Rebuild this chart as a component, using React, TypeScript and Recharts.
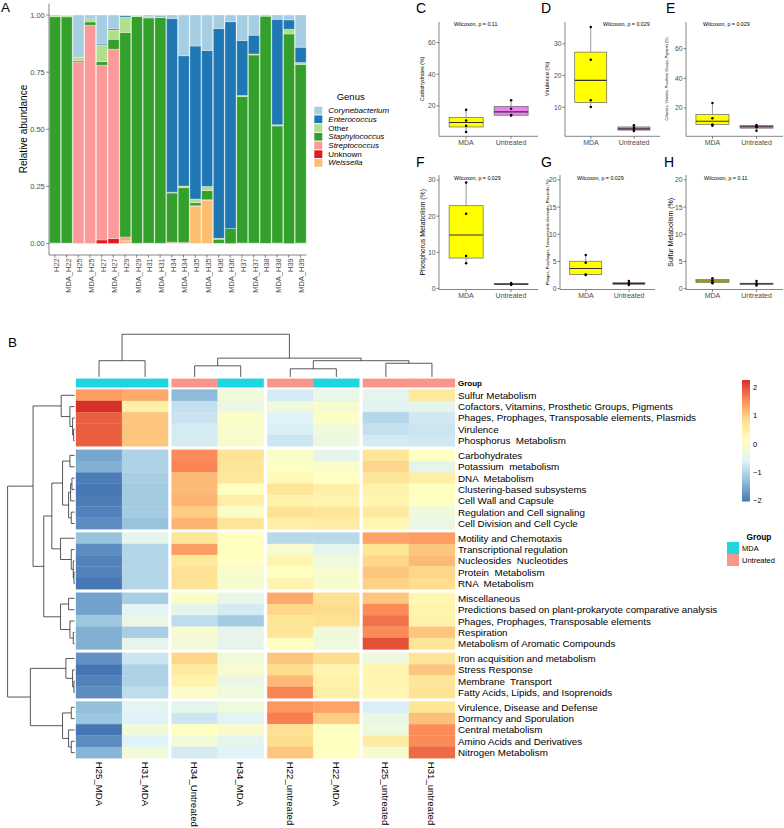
import React from "react";
import { BarChart, Bar, XAxis, YAxis, ComposedChart, ReferenceArea, ReferenceLine } from "recharts";

const FONT = "'Liberation Sans', Arial, Helvetica, sans-serif";
const TICK_GREY = "#4d4d4d";
const AXIS_GREY = "#333333";

/* ---------------- Panel A : genus relative abundance ---------------- */
const samples = ["H22","MDA_H22","H25","MDA_H25","H27","MDA_H27","H29","MDA_H29","H31","MDA_H31","H34","MDA_H34","H35","MDA_H35","H36","MDA_H36","H37","MDA_H37","H38","MDA_H38","H39","MDA_H39"];
const weissella =       [0,0,0,0,0,0,0.012,0,0,0,0,0,0.162,0.19,0,0,0,0,0,0,0,0];
const unknownGenus =    [0,0,0,0,0.016,0.022,0,0,0,0,0,0,0,0,0,0,0,0,0,0,0,0];
const streptococcus =   [0.003,0.002,0.795,0.955,0.764,0.828,0.017,0.001,0.002,0.001,0.006,0.005,0.004,0.002,0.001,0,0.003,0.002,0.001,0.003,0,0.003];
const staphylococcus =  [0.99,0.99,0.005,0.015,0.016,0.044,0.895,0.993,0.985,0.988,0.215,0.24,0.013,0.04,0.018,0.066,0.641,0.823,0.994,0.512,0.917,0.781];
const otherGenus =      [0.007,0.006,0.015,0.01,0.073,0.04,0.066,0.003,0.005,0.003,0.004,0.007,0.016,0.018,0.004,0,0.004,0.005,0.005,0.005,0.021,0.008];
const enterococcus =    [0,0.001,0,0.003,0.004,0.006,0.007,0.001,0,0.004,0.76,0.57,0.669,0.595,0.918,0.905,0.241,0.082,0,0.461,0.041,0.067];
const corynebacterium = [0,0.001,0.185,0.017,0.127,0.06,0.003,0.002,0.008,0.004,0.015,0.178,0.136,0.155,0.059,0.029,0.111,0.088,0,0.019,0.021,0.141];
const genusLegend = ["Corynebacterium","Enterococcus","Other","Staphylococcus","Streptococcus","Unknown","Weissella"];
const genusItalic = [true,true,false,true,true,false,true];
const abundanceTicks = [0,0.25,0.5,0.75,1];

const genusColors: Record<string,string> = {
  Corynebacterium: "#A6CEE3", Enterococcus: "#1F78B4", Other: "#B2DF8A", Staphylococcus: "#33A02C",
  Streptococcus: "#FB9A99", Unknown: "#E31A1C", Weissella: "#FDBF6F",
};
const stackOrder = ["Weissella","Unknown","Streptococcus","Staphylococcus","Other","Enterococcus","Corynebacterium"];
const abundanceData = samples.map((s, i) => ({
  sample: s, Weissella: weissella[i], Unknown: unknownGenus[i], Streptococcus: streptococcus[i],
  Staphylococcus: staphylococcus[i], Other: otherGenus[i], Enterococcus: enterococcus[i], Corynebacterium: corynebacterium[i],
}));

/* ---------------- Panels C-H : boxplots ---------------- */
const treatmentGroups = ["MDA","Untreated"];
const carbohydrateStats = [[3.5,6.7,9.5,12.6,17.6],[14.0,14.1,16.2,19.7,23.6]];
const carbohydratePoints = [[17.6,10.8,7.4,3.5],[23.6,18.2,14.2,14.0]];
const virulenceStats = [[10.1,11.5,18.5,27.4,35.3],[2.5,2.8,3.2,3.8,4.3]];
const virulencePoints = [[35.3,25.0,12.2,10.1],[4.3,3.6,3.0,2.5]];
const cofactorStats = [[8.0,8.9,11.1,15.6,23.3],[4.7,6.4,7.3,8.2,8.5]];
const cofactorPoints = [[23.3,13.1,8.9,8.0],[8.5,7.6,7.0,4.7]];
const phosphorusStats = [[7.0,8.4,14.8,22.9,29.3],[1.0,1.1,1.2,1.3,1.5]];
const phosphorusPoints = [[29.3,20.7,9.0,7.0],[1.5,1.2,1.1,1.0]];
const phageStats = [[2.5,2.6,3.7,5.05,6.2],[0.7,0.8,0.95,1.1,1.4]];
const phagePoints = [[6.2,4.75,2.6,2.5],[1.4,1.0,0.9,0.7]];
const sulfurStats = [[1.0,1.15,1.4,1.7,1.9],[0.6,0.8,0.9,1.0,1.4]];
const sulfurPoints = [[1.9,1.5,1.2,1.0],[1.4,1.0,0.85,0.6]];
const boxFill: Record<string,string> = { MDA: "#FFFF00", Untreated: "#EE82EE" };

const boxPanels = [
  { letter: "C", stats: carbohydrateStats, points: carbohydratePoints, yLabel: "Carbohydrates (%)", p: "Wilcoxon, p = 0.11",
    domain: [0.8, 73], ticks: [20,40,60], axisX: 439, top: 21.7, bottom: 136, width: 99, labelX: 422, labelSize: 5.3, pX: 454, letterX: 416 },
  { letter: "D", stats: virulenceStats, points: virulencePoints, yLabel: "Virulence (%)", p: "Wilcoxon, p = 0.029",
    domain: [0.85, 36.9], ticks: [10,20,30], axisX: 565, top: 21.7, bottom: 136, width: 95, labelX: 547, labelSize: 5.8, pX: 603, letterX: 541 },
  { letter: "E", stats: cofactorStats, points: cofactorPoints, yLabel: "Cofactors, Vitamins, Prosthetic Groups, Pigments (%)", p: "Wilcoxon, p = 0.029",
    domain: [0.9, 78], ticks: [20,40,60], axisX: 686, top: 21.7, bottom: 136, width: 97, labelX: 667.5, labelSize: 3.5, pX: 703, letterX: 666 },
  { letter: "F", stats: phosphorusStats, points: phosphorusPoints, yLabel: "Phosphorus Metabolism (%)", p: "Wilcoxon, p = 0.029",
    domain: [-0.3, 31.4], ticks: [0,10,20,30], axisX: 439, top: 175, bottom: 289.5, width: 99, labelX: 422.3, labelSize: 6.9, pX: 454, letterX: 416 },
  { letter: "G", stats: phageStats, points: phagePoints, yLabel: "Phages, Prophages, Transposable elements, Plasmids (%)", p: "Wilcoxon, p = 0.029",
    domain: [-0.15, 20.9], ticks: [0,5,10,15,20], axisX: 560, top: 175, bottom: 289.5, width: 95, labelX: 547, labelSize: 4.05, pX: 577, letterX: 541 },
  { letter: "H", stats: sulfurStats, points: sulfurPoints, yLabel: "Sulfur Metabolism (%)", p: "Wilcoxon, p = 0.11",
    domain: [-0.15, 20.9], ticks: [0,5,10,15,20], axisX: 686, top: 175, bottom: 289.5, width: 97, labelX: 670.7, labelSize: 7, pX: 704, letterX: 664 },
];

/* ---------------- Panel B : heatmap ---------------- */
const heatRows = [
  "Sulfur Metabolism","Cofactors, Vitamins, Prosthetic Groups, Pigments","Phages, Prophages, Transposable elements, Plasmids","Virulence","Phosphorus  Metabolism",
  "Carbohydrates","Potassium  metabolism","DNA  Metabolism","Clustering-based subsystems","Cell Wall and Capsule","Regulation and Cell signaling","Cell Division and Cell Cycle",
  "Motility and Chemotaxis","Transcriptional regulation","Nucleosides  Nucleotides","Protein  Metabolism","RNA  Metabolism",
  "Miscellaneous","Predictions based on plant-prokaryote comparative analysis","Phages, Prophages, Transposable elements","Respiration","Metabolism of Aromatic Compounds",
  "Iron acquisition and metabolism","Stress Response","Membrane  Transport","Fatty Acids, Lipids, and Isoprenoids",
  "Virulence, Disease and Defense","Dormancy and Sporulation","Central metabolism","Amino Acids and Derivatives","Nitrogen Metabolism",
];
const heatCols = ["H25_MDA","H31_MDA","H34_Untreated","H34_MDA","H22_untreated","H22_MDA","H25_untreated","H31_untreated"];
const colGroup = ["MDA","MDA","Untreated","MDA","Untreated","MDA","Untreated","Untreated"];
const rowGroupSizes = [5,7,5,5,4,5];
const colGroupSizes = [2,2,2,2];
const zScores = [
  [1.4,1.3,-1.35,-0.2,-0.7,-0.4,-0.45,0.6],
  [2.25,0.45,-0.85,-0.35,-0.25,-0.1,-0.55,-0.45],
  [1.9,1.05,-0.8,0.0,-0.6,0.05,-1.0,-0.75],
  [1.9,1.05,-0.7,-0.05,-0.65,-0.25,-0.85,-0.78],
  [1.9,1.05,-0.7,-0.05,-0.78,-0.3,-0.7,-0.75],
  [-1.55,-1.05,1.55,0.75,0.0,-0.45,0.7,0.1],
  [-1.45,-1.05,1.6,0.7,0.05,0.0,0.9,-0.45],
  [-1.95,-1.1,1.15,0.65,0.25,0.1,0.7,0.5],
  [-2.0,-1.15,1.15,0.1,0.7,0.45,0.4,0.12],
  [-1.95,-1.15,1.2,0.5,0.4,0.35,0.35,0.1],
  [-1.9,-1.15,1.0,0.0,0.8,0.7,0.6,-0.25],
  [-1.8,-1.25,1.2,0.7,0.45,0.55,0.3,-0.35],
  [-1.25,-0.45,0.7,0.1,-0.95,-0.95,1.35,1.4],
  [-1.8,-1.0,1.4,0.1,-0.1,-0.45,0.7,1.05],
  [-1.9,-1.0,0.65,0.1,0.35,-0.25,0.9,1.15],
  [-1.9,-1.0,0.8,-0.05,0.1,-0.1,1.05,0.9],
  [-2.0,-1.0,0.75,-0.1,0.35,-0.1,0.95,0.85],
  [-1.6,-1.1,0.0,-0.4,1.3,0.8,1.05,0.3],
  [-1.6,-0.55,-0.45,-0.7,0.9,0.85,1.55,0.35],
  [-1.2,-0.35,-0.9,-1.15,0.7,0.8,1.75,0.4],
  [-1.45,-1.1,-0.1,-0.45,0.7,-0.2,1.55,1.05],
  [-1.45,-0.45,-0.2,-0.45,0.1,-0.25,2.0,0.7],
  [-1.75,-0.78,0.9,-0.2,1.05,0.85,-0.25,0.7],
  [-2.05,-1.05,0.6,-0.1,0.85,0.35,0.35,1.05],
  [-1.9,-1.05,0.4,-0.35,1.15,0.4,0.35,0.7],
  [-1.8,-0.9,0.0,-0.25,1.6,0.5,0.3,0.75],
  [-1.3,-0.55,-0.45,-0.25,1.45,1.35,-0.65,0.7],
  [-1.2,-0.6,-0.78,-0.55,1.65,1.0,-0.35,1.1],
  [-2.05,-0.2,0.1,-0.05,0.8,0.1,-0.25,1.55],
  [-1.8,-0.6,-0.2,-0.45,0.85,0.1,0.55,1.55],
  [-1.4,-0.2,-0.7,-0.6,1.05,0.1,-0.1,1.8],
];
// dendrogram merges: [childA, childB, height]; children >= leaf count refer to earlier merges
const rowMerges = [
  [3,4,0.015],[2,31,0.03],[1,32,0.07],[0,33,0.2],
  [5,6,0.07],[7,8,0.04],[36,9,0.06],[10,11,0.05],[37,38,0.09],[35,39,0.18],
  [15,16,0.01],[14,41,0.02],[13,42,0.05],[12,43,0.21],
  [17,18,0.09],[20,21,0.02],[19,46,0.07],[45,47,0.21],
  [24,25,0.01],[23,49,0.03],[22,50,0.13],
  [26,27,0.05],[29,30,0.05],[28,53,0.09],[52,54,0.18],
  [40,44,0.34],[56,48,0.46],[34,57,0.62],[51,55,0.66],[58,59,1.0],
];
const colMerges = [[0,1,0.38],[2,3,0.26],[4,5,0.19],[6,7,0.32],[10,11,0.38],[9,12,0.44],[8,13,1.0]];
const heatPalette = ["#4575B4","#91BFDB","#E0F3F8","#FFFFBF","#FEE090","#FC8D59","#D73027"];
const heatRange = [-2.02, 2.25];
const heatLegendTicks = [2,1,0,-1,-2];
const groupColors: Record<string,string> = { MDA: "#1CD6E0", Untreated: "#F9968B" };

// layout (data units of the heatmap chart)
const ROW_GAP = 0.3, COL_GAP = 0.076;
const HM_X0 = -1.4977, HM_X1 = 8.228, HM_Y0 = -4.947, HM_Y1 = 32.5;

function hexToRgb(h: string) { return [1,3,5].map(i => parseInt(h.slice(i, i+2), 16)); }
function heatColor(v: number) {
  const t = Math.max(0, Math.min(1, (v - heatRange[0]) / (heatRange[1] - heatRange[0])));
  const s = t * (heatPalette.length - 1);
  const i = Math.min(Math.floor(s), heatPalette.length - 2);
  const f = s - i;
  const a = hexToRgb(heatPalette[i]), b = hexToRgb(heatPalette[i+1]);
  const c = a.map((x, k) => Math.round(x + (b[k] - x) * f));
  return `rgb(${c[0]},${c[1]},${c[2]})`;
}
function positions(sizes: number[], gap: number) {
  const out: number[] = []; let k = 0;
  sizes.forEach((n, g) => { for (let j = 0; j < n; j++) { out.push(k + g * gap); k++; } });
  return out;
}
const rowPos = positions(rowGroupSizes, ROW_GAP);
const colPos = positions(colGroupSizes, COL_GAP);
const rowCenters = rowPos.map(p => p + 0.5);
const colCenters = colPos.map(p => p + 0.5);

function dendro(leaves: number[], merges: number[][]) {
  const pos = [...leaves]; const ht = leaves.map(() => 0); const segs: number[][] = [];
  merges.forEach(([a, b, h]) => {
    segs.push([pos[a], ht[a], pos[a], h]);
    segs.push([pos[a], h, pos[b], h]);
    segs.push([pos[b], h, pos[b], ht[b]]);
    pos.push((pos[a] + pos[b]) / 2); ht.push(h);
  });
  return segs;
}
const rowTreeX = (h: number) => -0.03 - h * 1.455;
const colTreeY = (h: number) => -1.12 - h * 3.76;

/* ---------------- components ---------------- */
const SampleTick = (props: any) => {
  const { x, y, payload } = props;
  return (
    <text x={x + 1.5} y={y} transform={`rotate(-90 ${x + 1.5} ${y})`} textAnchor="end" dominantBaseline="central"
      fontSize={7.5} fontFamily={FONT} fill={TICK_GREY}>{payload.value}</text>
  );
};

const BoxShape = (props: any) => {
  const { x, y, width, height, payload } = props;
  if (!payload || !payload.stats) return null;
  const [mn, q1, md, q3, mx] = payload.stats;
  const top = Math.min(y, y + height), bot = Math.max(y, y + height);
  const py = (v: number) => bot - (bot - top) * (v - mn) / (mx - mn);
  const cx = x + width / 2;
  return (
    <g>
      <line x1={cx} x2={cx} y1={py(mx)} y2={py(q3)} stroke="#555" strokeWidth={0.6} />
      <line x1={cx} x2={cx} y1={py(q1)} y2={py(mn)} stroke="#555" strokeWidth={0.6} />
      <rect x={x} y={py(q3)} width={width} height={Math.max(0.5, py(q1) - py(q3))} fill={boxFill[payload.group]} stroke="#666" strokeWidth={0.7} />
      <line x1={x} x2={x + width} y1={py(md)} y2={py(md)} stroke="#333" strokeWidth={1.1} />
      {payload.points.map((v: number, i: number) => <circle key={i} cx={cx} cy={py(v)} r={1.25} fill="#000" />)}
    </g>
  );
};

function BoxPanel({ cfg }: { cfg: any }) {
  const yw = 26, mt = 4, mr = 4, xh = 16;
  const plotH = cfg.bottom - cfg.top;
  const data = treatmentGroups.map((g, i) => ({ group: g, range: [cfg.stats[i][0], cfg.stats[i][4]], stats: cfg.stats[i], points: cfg.points[i] }));
  const pad = 0.0455 * cfg.width;
  return (
    <div style={{ position: "absolute", left: cfg.axisX - yw, top: cfg.top - mt }}>
      <ComposedChart width={yw + cfg.width + mr} height={mt + plotH + xh} data={data} margin={{ top: mt, right: mr, left: 0, bottom: 0 }} barCategoryGap="12.5%">
        <XAxis dataKey="group" type="category" height={xh} padding={{ left: pad, right: pad }} tickSize={2.5} tickMargin={1}
          tick={{ fontSize: 7, fill: TICK_GREY, fontFamily: FONT }} axisLine={{ stroke: AXIS_GREY, strokeWidth: 0.6 }} tickLine={{ stroke: AXIS_GREY, strokeWidth: 0.6 }} />
        <YAxis type="number" width={yw} domain={cfg.domain} ticks={cfg.ticks} allowDataOverflow interval={0} tickSize={2.5} tickMargin={1}
          tick={{ fontSize: 6.8, fill: TICK_GREY, fontFamily: FONT }} axisLine={{ stroke: AXIS_GREY, strokeWidth: 0.6 }} tickLine={{ stroke: AXIS_GREY, strokeWidth: 0.6 }} />
        <Bar dataKey="range" shape={(p: any) => <BoxShape {...p} />} isAnimationActive={false} />
      </ComposedChart>
    </div>
  );
}

const RowTick = (props: any) => {
  const { x, y, payload } = props;
  const idx = rowCenters.findIndex(c => Math.abs(c - payload.value) < 1e-6);
  return <text x={x + 3} y={y} dominantBaseline="central" fontSize={9.8} fontFamily={FONT} fill="#000" style={{ whiteSpace: "pre" }}>{idx >= 0 ? heatRows[idx] : ""}</text>;
};
const ColTick = (props: any) => {
  const { x, y, payload } = props;
  const idx = colCenters.findIndex(c => Math.abs(c - payload.value) < 1e-6);
  const ty = y + 3.5;
  return <text x={x} y={ty} transform={`rotate(90 ${x} ${ty})`} dominantBaseline="central" fontSize={9.6} fontFamily={FONT} fill="#000">{idx >= 0 ? heatCols[idx] : ""}</text>;
};

function Heatmap() {
  const cells: any[] = [];
  zScores.forEach((row, r) => row.forEach((v, c) => {
    const col = heatColor(v);
    cells.push(<ReferenceArea key={`h${r}_${c}`} x1={colPos[c]} x2={colPos[c] + 1} y1={rowPos[r]} y2={rowPos[r] + 1}
      fill={col} fillOpacity={1} stroke={col} strokeWidth={0.3} ifOverflow="visible" />);
  }));
  const anno = colGroup.map((g, c) => (
    <ReferenceArea key={`a${c}`} x1={colPos[c]} x2={colPos[c] + 1} y1={-0.96} y2={-0.21} fill={groupColors[g]} fillOpacity={1}
      stroke={groupColors[g]} strokeWidth={0.3} ifOverflow="visible" />
  ));
  const rowSegs = dendro(rowCenters, rowMerges).map((s, i) => (
    <ReferenceLine key={`r${i}`} segment={[{ x: rowTreeX(s[1]), y: s[0] }, { x: rowTreeX(s[3]), y: s[2] }]} stroke="#222" strokeWidth={0.75} ifOverflow="visible" />
  ));
  const colSegs = dendro(colCenters, colMerges).map((s, i) => (
    <ReferenceLine key={`k${i}`} segment={[{ x: s[0], y: colTreeY(s[1]) }, { x: s[2], y: colTreeY(s[3]) }]} stroke="#222" strokeWidth={0.75} ifOverflow="visible" />
  ));
  return (
    <div style={{ position: "absolute", left: 0, top: 300 }}>
      <ComposedChart width={784} height={528} data={[{ hx: 0, hy: 0 }]} margin={{ top: 33.5, right: 29, bottom: 9.7, left: 7 }}>
        <XAxis dataKey="hx" type="number" domain={[HM_X0, HM_X1]} allowDataOverflow ticks={colCenters} interval={0} tick={<ColTick />}
          axisLine={false} tickLine={false} tickSize={0} tickMargin={0} height={60} />
        <YAxis dataKey="hy" type="number" orientation="right" reversed domain={[HM_Y0, HM_Y1]} allowDataOverflow ticks={rowCenters} interval={0}
          tick={<RowTick />} axisLine={false} tickLine={false} tickSize={0} tickMargin={0} width={300} />
        {cells}
        {anno}
        {rowSegs}
        {colSegs}
      </ComposedChart>
    </div>
  );
}

function Overlay() {
  const legendTop = 380, legendBot = 501.5;
  const legY = (v: number) => legendBot - (v - heatRange[0]) / (heatRange[1] - heatRange[0]) * (legendBot - legendTop);
  const T = (p: any) => <text fontFamily={FONT} {...p} />;
  return (
    <svg width={784} height={828} style={{ position: "absolute", left: 0, top: 0, pointerEvents: "none" }}>
      <defs>
        <linearGradient id="heatgrad" x1="0" y1="1" x2="0" y2="0">
          {heatPalette.map((c, i) => <stop key={i} offset={`${(i / (heatPalette.length - 1)) * 100}%`} stopColor={c} />)}
        </linearGradient>
      </defs>
      {/* panel letters */}
      <T x={1} y={12} fontSize={13.5}>A</T>
      <T x={8} y={346.5} fontSize={13.5}>B</T>
      {boxPanels.map(c => <T key={c.letter} x={c.letterX} y={c.top - 8.4} fontSize={14}>{c.letter}</T>)}
      {/* panel A texts */}
      <T x={23} y={129} fontSize={10} textAnchor="middle" dominantBaseline="central" transform="rotate(-90 23 129)">Relative abundance</T>
      <T x={336.7} y={100} fontSize={9.5}>Genus</T>
      {genusLegend.map((g, i) => (
        <g key={g}>
          <rect x={314.3} y={106.7 + i * 8.72} width={8} height={7.7} fill={genusColors[g]} />
          <T x={328.3} y={110.6 + i * 8.72} fontSize={8} dominantBaseline="central" fontStyle={genusItalic[i] ? "italic" : "normal"}>{g}</T>
        </g>
      ))}
      {/* boxplot texts */}
      {boxPanels.map(c => {
        const cy = (c.top + c.bottom) / 2;
        return (
          <g key={"t" + c.letter}>
            <T x={c.labelX} y={cy} fontSize={c.labelSize} textAnchor="middle" dominantBaseline="central" transform={`rotate(-90 ${c.labelX} ${cy})`}>{c.yLabel}</T>
            <T x={c.pX} y={c.top + 2.5} fontSize={5.3} dominantBaseline="central">{c.p}</T>
          </g>
        );
      })}
      {/* heatmap annotations and legends */}
      <T x={458} y={383} fontSize={8} fontWeight="bold" dominantBaseline="central">Group</T>
      <rect x={742} y={legendTop} width={8} height={legendBot - legendTop} fill="url(#heatgrad)" />
      {heatLegendTicks.map(v => <T key={v} x={753} y={legY(v)} fontSize={7.5} dominantBaseline="central">{v < 0 ? `\u2212${-v}` : `${v}`}</T>)}
      <T x={759} y={537} fontSize={8.3} fontWeight="bold" textAnchor="middle" dominantBaseline="central">Group</T>
      {treatmentGroups.map((g, i) => (
        <g key={g}>
          <rect x={727} y={542 + i * 12} width={12} height={12} fill={groupColors[g]} />
          <T x={742} y={548 + i * 12} fontSize={7.5} dominantBaseline="central">{g}</T>
        </g>
      ))}
    </svg>
  );
}

export default function App() {
  return (
    <div style={{ position: "absolute", left: 0, top: 0, width: 784, height: 828, background: "#fff", overflow: "hidden", fontFamily: FONT }}>
      <div style={{ position: "absolute", left: 0, top: 0 }}>
        <BarChart width={320} height={300} data={abundanceData} margin={{ top: 3.6, right: 13.7, left: 0, bottom: 0 }} barCategoryGap="5%">
          <XAxis dataKey="sample" interval={0} height={45} tick={<SampleTick />} tickSize={2.7} tickMargin={0.5}
            axisLine={{ stroke: AXIS_GREY, strokeWidth: 0.6 }} tickLine={{ stroke: AXIS_GREY, strokeWidth: 0.6 }} />
          <YAxis width={49} domain={[-0.05, 1.05]} ticks={abundanceTicks} allowDataOverflow interval={0} tickFormatter={(v: number) => v.toFixed(2)}
            tick={{ fontSize: 7.5, fill: TICK_GREY, fontFamily: FONT }} tickSize={2.7} tickMargin={1.5}
            axisLine={{ stroke: AXIS_GREY, strokeWidth: 0.6 }} tickLine={{ stroke: AXIS_GREY, strokeWidth: 0.6 }} />
          {stackOrder.map(g => (
            <Bar key={g} dataKey={g} stackId="a" fill={genusColors[g]} stroke="#fff" strokeWidth={0.3} isAnimationActive={false} />
          ))}
        </BarChart>
      </div>
      {boxPanels.map(c => <BoxPanel key={c.letter} cfg={c} />)}
      <Heatmap />
      <Overlay />
    </div>
  );
}
